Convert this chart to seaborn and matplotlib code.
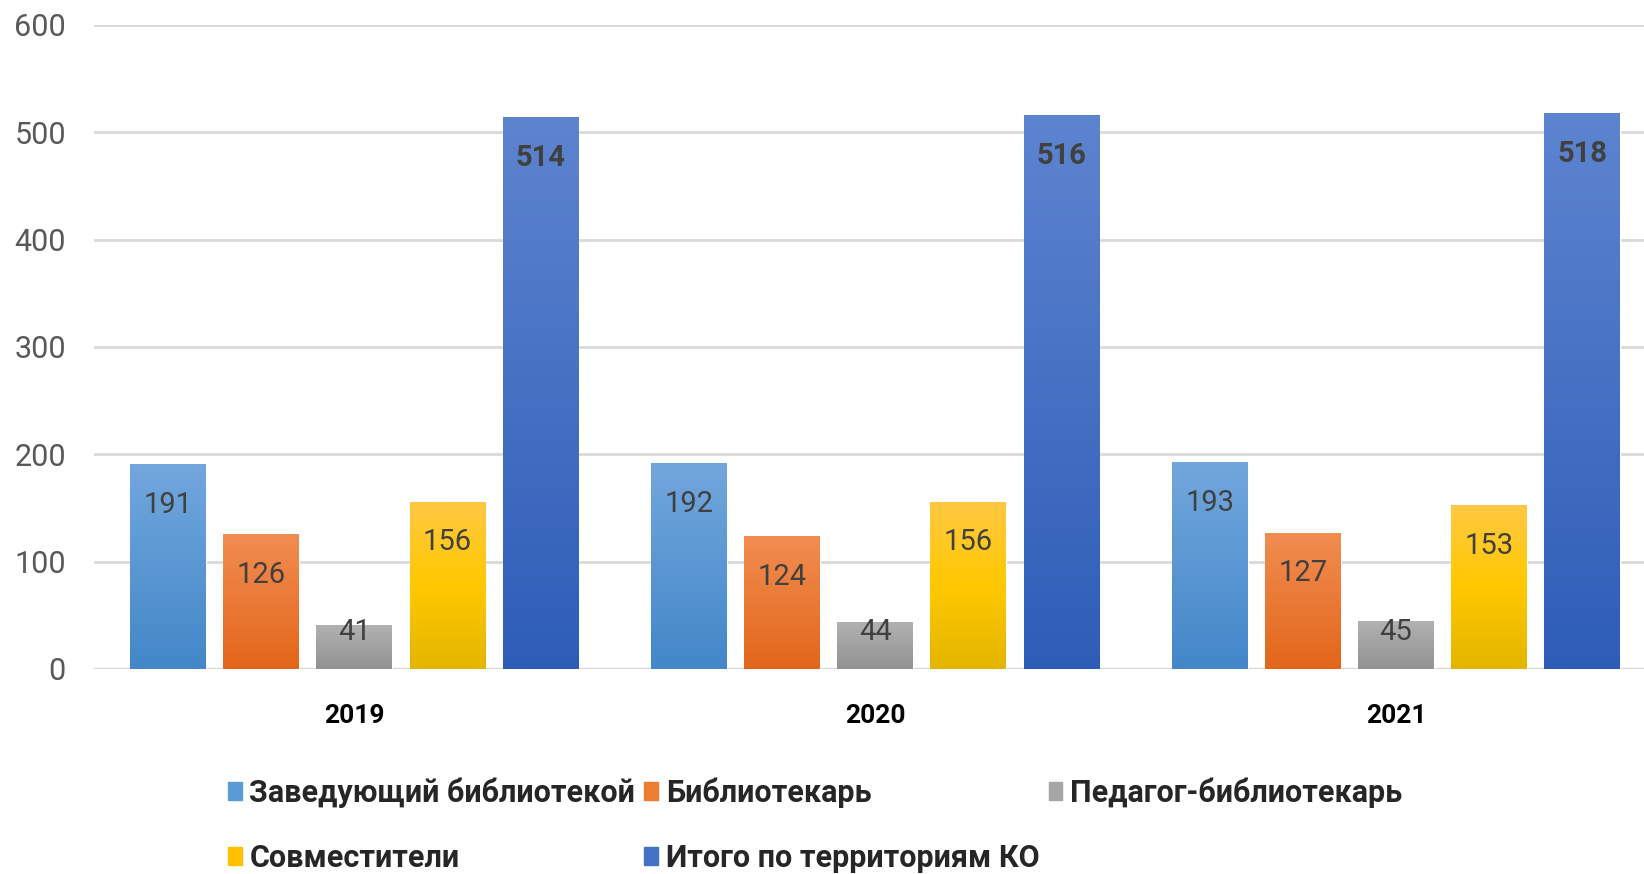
import numpy as np
import pandas as pd
import matplotlib
matplotlib.use("Agg")
import matplotlib.pyplot as plt
from matplotlib.colors import LinearSegmentedColormap
from matplotlib.patches import Patch
import seaborn as sns

years = ["2019", "2020", "2021"]
categories = ["Заведующий библиотекой", "Библиотекарь", "Педагог-библиотекарь",
              "Совместители", "Итого по территориям КО"]
zav = [191, 192, 193]
bibl = [126, 124, 127]
ped = [41, 44, 45]
sovm = [156, 156, 153]
itogo = [514, 516, 518]
y_ticks = [0, 100, 200, 300, 400, 500, 600]

# gradient colours (bottom, top) per series
grads = [["#4387C8", "#72A7DD"],
         ["#E2661A", "#F28D52"],
         ["#929292", "#B2B2B2"],
         ["#E3B500", "#FFC800", "#FFC843"],
         ["#2E5DB7", "#5D84CF"]]
mid_colors = ["#5B9BD5", "#ED7D31", "#A5A5A5", "#FFC000", "#4472C4"]

sns.set_style("white")
plt.rcParams["font.family"] = ["Roboto", "DejaVu Sans"]

df = pd.DataFrame({
    "year": np.repeat(years, len(categories)),
    "cat": categories * len(years),
    "value": [v for i in range(len(years)) for v in
              (zav[i], bibl[i], ped[i], sovm[i], itogo[i])],
})

fig = plt.figure(figsize=(16.44, 8.74), dpi=100)
ax = fig.add_axes([0.057, 0.2346, 0.943, 0.7368])

sns.barplot(data=df, x="year", y="value", hue="cat", hue_order=categories,
            palette=mid_colors, width=0.893, gap=0.19, ax=ax, legend=False,
            saturation=1)

ax.set_xlim(-0.5, 2.476)
ax.set_ylim(0, 600)
ax.set_yticks(y_ticks)
ax.yaxis.grid(True, color="#D9D9D9", linewidth=2)
ax.set_axisbelow(True)
for s in ["left", "right", "top", "bottom"]:
    ax.spines[s].set_visible(False)
ax.axhline(0, color="#D9D9D9", linewidth=2.5, zorder=0.5)

grad = np.linspace(0, 1, 256).reshape(-1, 1)
for k, cont in enumerate(ax.containers):
    cmap = LinearSegmentedColormap.from_list("g%d" % k, grads[k])
    for bar in cont:
        x0, w, h = bar.get_x(), bar.get_width(), bar.get_height()
        im = ax.imshow(grad, extent=[x0, x0 + w, 0, h], origin="lower",
                       cmap=cmap, aspect="auto", zorder=2.5)
        im.set_clip_path(bar)
        bold = k == len(categories) - 1
        ax.text(x0 + w / 2, max(h - 38, 34), str(int(h)), ha="center",
                va="center", fontsize=21, color="#404040",
                fontweight="bold" if bold else "normal", zorder=4)

ax.set_xlim(-0.5, 2.476)
ax.set_ylim(0, 600)
ax.set_xlabel("")
ax.set_ylabel("")
ax.tick_params(axis="y", labelsize=22, labelcolor="#595959", pad=20, length=0)
ax.tick_params(axis="x", labelsize=19, labelcolor="black", pad=25, length=0)
for t in ax.get_xticklabels():
    t.set_fontweight("bold")

handles = [Patch(color=c) for c in mid_colors]
order = [0, 3, 1, 4, 2]
fig.legend([handles[i] for i in order], [categories[i] for i in order],
           ncol=3, loc="upper left", bbox_to_anchor=(0.122, 0.142),
           frameon=False, handlelength=0.45, handleheight=0.5,
           handletextpad=0.25, columnspacing=0.3, labelspacing=1.15,
           prop={"size": 22, "weight": "bold"})

fig.savefig("out.png", dpi=100)
